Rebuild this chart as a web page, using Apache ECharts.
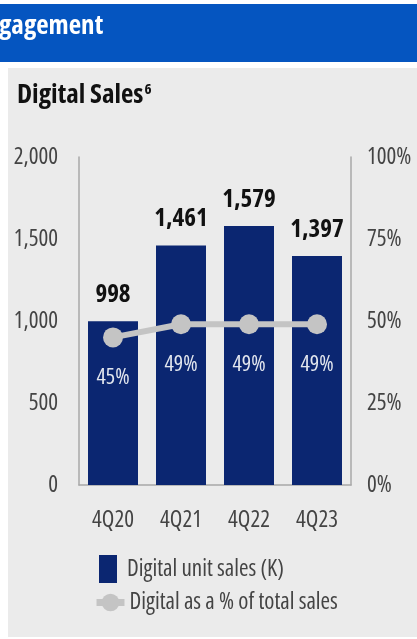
<!DOCTYPE html>
<html>
<head>
<meta charset="utf-8">
<script src="https://cdn.jsdelivr.net/npm/echarts@6/dist/echarts.min.js"></script>
<style>
  html, body { margin: 0; padding: 0; background: #ffffff; }
  #chart { width: 417px; height: 639px; }
</style>
</head>
<body>
<div id="chart"></div>
<script>
// Quarterly digital sales figures
const quarters = ['4Q20', '4Q21', '4Q22', '4Q23'];
const digitalUnitSales = [998, 1461, 1579, 1397];      // thousands of units
const digitalShareOfSales = [45, 49, 49, 49];          // percent of total sales
const leftTicks = { min: 0, max: 2000, interval: 500 };
const rightTicks = { min: 0, max: 100, interval: 25 };

const FAMILY = '"Open Sans", sans-serif';
const STRETCH = 'condensed';           // passed as fontStyle so the canvas font string carries font-stretch
const NAVY = '#0b2671';
const GREY_LINE = '#c4c4c4';
const TEXT = '#444444';

const plain = (size, color) => ({
  fontFamily: FAMILY, fontStyle: STRETCH, fontWeight: 400, fontSize: size, color: color || TEXT
});

const chart = echarts.init(document.getElementById('chart'), null, { renderer: 'canvas' });

chart.setOption({
  backgroundColor: '#ffffff',
  animation: false,
  graphic: [
    { type: 'rect', shape: { x: 0, y: 4, width: 417, height: 58 }, style: { fill: '#0555c0' }, z: 0 },
    { type: 'text', left: -1, top: 13, style: { text: 'gagement', fill: '#ffffff', font: 'condensed bold 27px ' + FAMILY }, z: 1 },
    { type: 'rect', shape: { x: 8, y: 68, width: 409, height: 569 }, style: { fill: '#ebebeb' }, z: 0 },
    {
      type: 'text', left: 17, top: 82, z: 1,
      style: {
        text: '{t|Digital Sales}{s|6}',
        rich: {
          t: { font: 'condensed bold 27px ' + FAMILY, fill: '#111111' },
          s: { font: 'condensed bold 15px ' + FAMILY, fill: '#111111', verticalAlign: 'top', padding: [0, 0, 12, 1] }
        }
      }
    }
  ],
  legend: [
    {
      data: [{ name: 'Digital unit sales (K)', icon: 'rect' }],
      left: 99, top: 555, padding: 0,
      itemWidth: 18, itemHeight: 28,
      textStyle: Object.assign(plain(23), { padding: [0, 0, 0, 5] })
    },
    {
      data: ['Digital as a % of total sales'],
      left: 93, top: 591, padding: 0,
      itemWidth: 28, itemHeight: 22,
      lineStyle: { width: 7 },
      textStyle: plain(23)
    }
  ],
  grid: { left: 79, right: 66, top: 157, bottom: 154, containLabel: false },
  xAxis: {
    type: 'category',
    data: quarters,
    axisLine: { show: true, lineStyle: { color: '#a8a8a8', width: 1.5 } },
    axisTick: { show: false },
    axisLabel: Object.assign(plain(23), { margin: 24 })
  },
  yAxis: [
    {
      type: 'value', min: leftTicks.min, max: leftTicks.max, interval: leftTicks.interval,
      axisLine: { show: true, lineStyle: { color: '#a8a8a8', width: 1.5 } },
      axisTick: { show: false },
      splitLine: { show: false },
      axisLabel: Object.assign(plain(23), {
        margin: 21,
        formatter: v => v.toLocaleString('en-US')
      })
    },
    {
      type: 'value', min: rightTicks.min, max: rightTicks.max, interval: rightTicks.interval,
      position: 'right',
      axisLine: { show: true, lineStyle: { color: '#a8a8a8', width: 1.5 } },
      axisTick: { show: false },
      splitLine: { show: false },
      axisLabel: Object.assign(plain(23), { margin: 16, formatter: '{value}%' })
    }
  ],
  series: [
    {
      name: 'Digital unit sales (K)',
      type: 'bar',
      data: digitalUnitSales,
      barWidth: 50,
      itemStyle: { color: NAVY },
      label: {
        show: true, position: 'top', distance: 14,
        fontFamily: FAMILY, fontStyle: STRETCH, fontWeight: 'bold', fontSize: 25, color: '#111111',
        formatter: p => p.value.toLocaleString('en-US')
      },
      z: 2
    },
    {
      name: 'Digital as a % of total sales',
      type: 'line',
      yAxisIndex: 1,
      data: digitalShareOfSales,
      symbol: 'circle',
      symbolSize: 20,
      lineStyle: { color: GREY_LINE, width: 6 },
      itemStyle: { color: GREY_LINE },
      label: Object.assign(plain(22, '#e2e6ee'), {
        show: true, position: 'bottom', distance: 19,
        formatter: '{c}%'
      }),
      z: 3
    }
  ]
});
</script>
</body>
</html>
